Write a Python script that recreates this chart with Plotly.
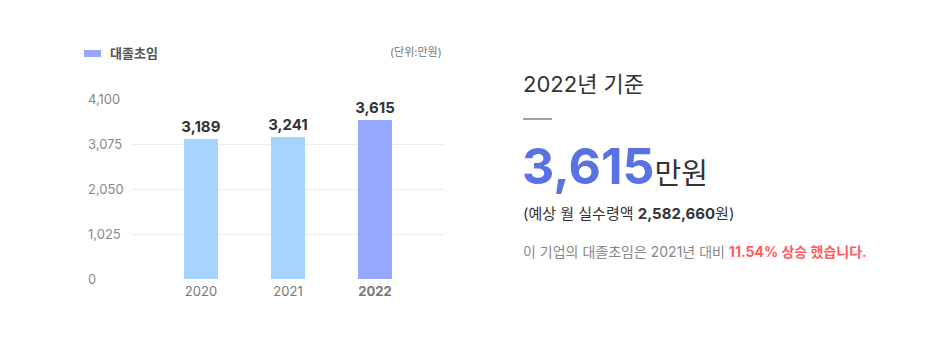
import plotly.graph_objects as go

years = ["2020", "2021", "2022"]
salary = [3189, 3241, 3615]
bar_colors = ["#a6d4fe", "#a6d4fe", "#96a8fe"]
y_ticks = [0, 1025, 2050, 3075, 4100]
y_tick_text = ["0", "1,025", "2,050", "3,075", "4,100"]
x_tick_text = ["2020", "2021", "<b>2022</b>"]
series_name = "대졸초임"
unit_text = "(단위:만원)"
monthly_net = "2,582,660"

W, H = 950, 363
FONT = "Inter, 'Noto Sans CJK KR', sans-serif"

def px(x):
    return x / W

def py(y):
    return 1 - y / H

xpos = list(range(len(years)))

fig = go.Figure()
fig.add_trace(go.Bar(
    x=xpos, y=salary, width=0.39,
    marker=dict(color=bar_colors, line=dict(width=0)),
    text=[f"{v:,}" for v in salary], textposition="outside",
    constraintext="none",
    textfont=dict(family=FONT, size=15, color="#333333", weight="bold"),
    cliponaxis=False, showlegend=False, hoverinfo="skip",
))

fig.update_layout(
    template="none",
    width=W, height=H, autosize=False,
    margin=dict(l=0, r=0, t=0, b=0, pad=0, autoexpand=False),
    paper_bgcolor="white", plot_bgcolor="white",
    font=dict(family=FONT),
    bargap=0,
    showlegend=False,
    xaxis=dict(
        domain=[px(132), px(444)],
        range=[-0.793, 2.793],
        tickmode="array", tickvals=xpos, ticktext=x_tick_text,
        tickfont=dict(size=13, color="#777777"),
        ticklabelstandoff=3,
        showgrid=False, zeroline=False, showline=False, ticks="",
        automargin=False, fixedrange=True,
    ),
    yaxis=dict(
        domain=[py(279), py(99)],
        range=[0, 4100],
        anchor="free", position=px(84),
        tickmode="array", tickvals=y_ticks, ticktext=y_tick_text,
        ticklabelposition="inside", ticklabeloverflow="allow",
        tickfont=dict(size=13, color="#888888"),
        showgrid=True, gridcolor="#ececec", gridwidth=1,
        zeroline=False, showline=False, ticks="",
        automargin=False, fixedrange=True,
    ),
)

# legend swatch + label
fig.add_shape(type="rect", xref="paper", yref="paper",
              x0=px(84), x1=px(101), y0=py(57), y1=py(50),
              fillcolor=bar_colors[-1], line=dict(width=0))
fig.add_annotation(xref="paper", yref="paper", x=px(108), y=py(53),
                   xanchor="left", yanchor="middle", showarrow=False,
                   text=f"<b>{series_name}</b>",
                   font=dict(family=FONT, size=13, color="#555555"))
fig.add_annotation(xref="paper", yref="paper", x=px(444), y=py(52),
                   xanchor="right", yanchor="middle", showarrow=False,
                   text=unit_text,
                   font=dict(family=FONT, size=11, color="#777777"))

# right panel
latest = salary[-1]
prev = salary[-2]
pct = (latest - prev) / prev * 100

fig.add_annotation(xref="paper", yref="paper", x=px(521), y=py(84),
                   xanchor="left", yanchor="middle", showarrow=False,
                   text=f"{years[-1]}년 기준",
                   font=dict(family=FONT, size=22, color="#333333"))
fig.add_shape(type="line", xref="paper", yref="paper",
              x0=px(523), x1=px(552), y0=py(119), y1=py(119),
              line=dict(color="#444444", width=1))
fig.add_annotation(xref="paper", yref="paper", x=px(520), y=py(166),
                   xanchor="left", yanchor="middle", showarrow=False,
                   text=(f"<span style='font-size:50px;color:#5872e4'><b>{latest:,}</b></span>"
                         f"<span style='font-size:29px;color:#333333'>만원</span>"),
                   font=dict(family=FONT, size=29, color="#333333"))
fig.add_annotation(xref="paper", yref="paper", x=px(521), y=py(213),
                   xanchor="left", yanchor="middle", showarrow=False,
                   text=f"(예상 월 실수령액 <b>{monthly_net}</b>원)",
                   font=dict(family=FONT, size=15, color="#333333"))
fig.add_annotation(xref="paper", yref="paper", x=px(521), y=py(251),
                   xanchor="left", yanchor="middle", showarrow=False,
                   text=(f"이 기업의 대졸초임은 {years[-2]}년 대비 "
                         f"<span style='color:#ff5b5b'><b>{pct:.2f}% 상승 했습니다.</b></span>"),
                   font=dict(family=FONT, size=14, color="#888888"))

fig.write_html("out.html")
